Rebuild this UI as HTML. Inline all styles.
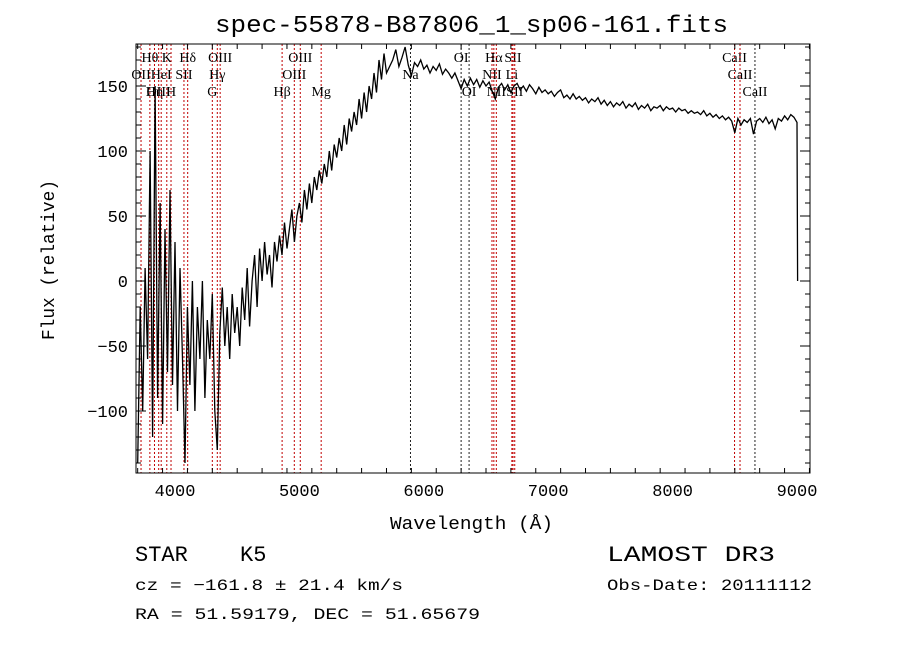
<!DOCTYPE html>
<html><head><meta charset="utf-8"><style>
html,body{margin:0;padding:0;background:#fff;}
svg{display:block;}
text{font-family:"Liberation Mono",monospace;fill:#000;}
.lbl{font-family:"Liberation Serif",serif;font-size:14px;}
</style></head><body>
<svg id="chart" width="900" height="649" viewBox="0 0 900 649" xmlns="http://www.w3.org/2000/svg">
<text x="215" y="32" font-size="24" textLength="513" lengthAdjust="spacingAndGlyphs">spec-55878-B87806_1_sp06-161.fits</text>
<g id="plot"></g>
<text x="390" y="529" font-size="18" textLength="163" lengthAdjust="spacingAndGlyphs">Wavelength (Å)</text>
<text transform="translate(54,340) rotate(-90)" font-size="18" textLength="160" lengthAdjust="spacingAndGlyphs">Flux (relative)</text>
<text x="135" y="561" font-size="22">STAR</text>
<text x="240" y="561" font-size="22">K5</text>
<text x="135" y="590" font-size="16" textLength="268" lengthAdjust="spacingAndGlyphs">cz = −161.8 ± 21.4 km/s</text>
<text x="135" y="619" font-size="16" textLength="345" lengthAdjust="spacingAndGlyphs">RA =  51.59179, DEC =  51.65679</text>
<text x="607" y="561" font-size="22" textLength="168" lengthAdjust="spacingAndGlyphs">LAMOST DR3</text>
<text x="607" y="590" font-size="16" textLength="205" lengthAdjust="spacingAndGlyphs">Obs-Date: 20111112</text>
</svg>
<script>
const xTicks=[4000,5000,6000,7000,8000,9000];
const yTicks=[-100,-50,0,50,100,150];
const fluxBlue=[-140,-20,-100,10,-60,100,-120,150,-90,60,-110,40,-70,70,-80,30,-100,10,-60,-140,-20,-80,0,-100,-20,-60,0,-90,-30,-60,-10,-100,-130,-40,-5,-50,-20,-60,-10,-40,-20,-50,-5,-30,10,-35,0,20,-20,25,0,30,5,20,-5,30,15,35,20,45,25,40,55,30,50,60,45,70,55,75,60,80,70,85,75,90,80,100,85,105,95,110,100,120,105,125,115,130,120,140,125,145,130,150,140,160,145,170,155,175,160];
const fluxRed=[170,178,165,172,180,166,158,168,165,170,163,166,160,165,162,167,159,163,160,156,160,154,148,155,150,156,151,155,149,154,150,153,146,140,149,152,147,151,145,150,152,147,150,146,151,148,144,149,145,147,144,146,142,145,147,141,143,140,144,140,142,139,141,137,140,138,141,136,139,135,138,134,137,135,138,133,136,134,137,132,135,133,136,131,134,133,135,131,134,132,133,130,133,131,132,129,131,129,130,128,131,127,129,126,128,125,127,124,126,123,114,125,120,124,122,125,113,123,125,122,126,121,124,117,125,123,127,124,128,126,122];
const lineWaves=[3727,3798,3835,3869,3889,3934,3968,4072,4102,4300,4340,4363,4861,4959,5007,5175,5893,6300,6364,6548,6563,6583,6708,6717,6731,8498,8542,8662];
const lineNames=["OII","Hθ","Hη","OIII","HeI","K","H","SII","Hδ","G","Hγ","OIII","Hβ","OIII","OIII","Mg","Na","OI","OI","NII","Hα","NII","Li","SII","SII","CaII","CaII","CaII"];
const lineRows=[1,0,2,2,1,0,2,1,0,2,1,0,2,1,0,2,1,0,2,1,0,2,1,0,2,0,1,2];
const lineBlack=[0,0,0,0,0,0,0,0,0,0,0,0,0,0,0,0,1,1,1,0,0,0,0,0,0,0,0,1];

const L=136,R=810,T=44,B=473;
const X=w=>175+(w-4000)*622/5000;
const Y=f=>281-f*1.3;
const NS="http://www.w3.org/2000/svg";
const g=document.getElementById('plot');
function mk(t,a){const e=document.createElementNS(NS,t);for(const k in a)e.setAttribute(k,a[k]);g.appendChild(e);return e;}

lineWaves.forEach((w,i)=>{
  const l=mk('line',{x1:X(w),x2:X(w),y1:T,y2:B,stroke:lineBlack[i]?'#222':'#c00000','stroke-width':1,'stroke-dasharray':'2,2'});
  
  
  const t=mk('text',{x:X(w),y:62+lineRows[i]*17,class:'lbl','text-anchor':'middle'});
  t.textContent=lineNames[i];
  
  
});

const pts=[];
fluxBlue.forEach((f,i)=>pts.push([3700+i*20,f]));
fluxRed.forEach((f,i)=>pts.push([5750+i*25,f]));
pts.push([9005,0]);
const clip=v=>Math.max(T,Math.min(B,v));
const p=mk('path',{d:pts.map((q,i)=>(i?'L':'M')+X(q[0]).toFixed(1)+','+clip(Y(q[1])).toFixed(1)).join(''),fill:'none',stroke:'#000','stroke-width':1.3});



const fr=mk('rect',{x:L,y:T,width:R-L,height:B-T,fill:'none',stroke:'#000','stroke-width':1});



for(let w=3700;w<=9100;w+=200){
  const maj=w%1000===0;const len=maj?10:5;
  mk('line',{x1:X(w),x2:X(w),y1:B,y2:B-len,stroke:'#000'});
  mk('line',{x1:X(w),x2:X(w),y1:T,y2:T+len,stroke:'#000'});
}
xTicks.forEach(w=>{
  const t=mk('text',{x:X(w),y:B+23,'text-anchor':'middle','font-size':17});
  t.textContent=w;
  
  
});
for(let f=-140;f<=180;f+=10){
  const maj=f%50===0;const len=maj?10:5;
  mk('line',{x1:L,x2:L+len,y1:Y(f),y2:Y(f),stroke:'#000'});
  mk('line',{x1:R,x2:R-len,y1:Y(f),y2:Y(f),stroke:'#000'});
}
yTicks.forEach(f=>{
  const t=mk('text',{x:L-8,y:Y(f)+6,'text-anchor':'end','font-size':17});
  t.textContent=f<0?'−'+(-f):f;
  
  
});
</script>
</body></html>
